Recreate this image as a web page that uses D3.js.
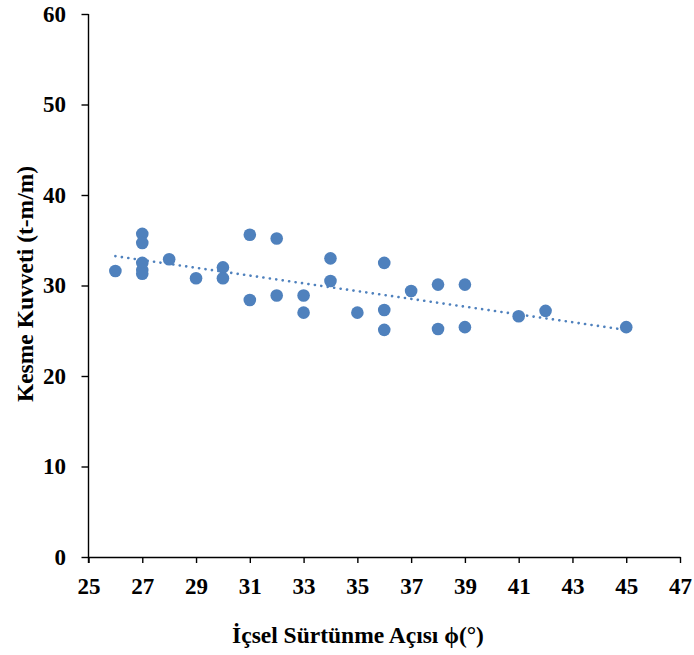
<!DOCTYPE html>
<html>
<head>
<meta charset="utf-8">
<script src="https://cdn.jsdelivr.net/npm/d3@7"></script>
<style>
  html, body { margin: 0; padding: 0; background: #fff; }
  svg { display: block; }
  text { font-family: "Liberation Serif", "Times New Roman", serif; font-weight: bold; fill: #000; }
</style>
</head>
<body>
<svg id="chart" width="694" height="655"></svg>
<script>
// Internal friction angle (degrees) vs. shear force (t-m/m)
const frictionAngle = [26, 27, 27, 27, 27, 27, 28, 29, 30, 30, 31, 31, 32, 32, 33, 33, 34, 34, 35, 36, 36, 36, 37, 38, 38, 39, 39, 41, 42, 45];
const shearForce    = [31.6, 35.7, 34.7, 32.5, 31.7, 31.3, 32.9, 30.8, 32.0, 30.8, 35.6, 28.4, 35.2, 28.9, 28.9, 27.0, 33.0, 30.5, 27.0, 32.5, 27.3, 25.1, 29.4, 30.1, 25.2, 30.1, 25.4, 26.6, 27.2, 25.4];
const xTicks = [25, 27, 29, 31, 33, 35, 37, 39, 41, 43, 45, 47];
const yTicks = [0, 10, 20, 30, 40, 50, 60];
const xTitle = "İçsel Sürtünme Açısı ϕ(°)";
const yTitle = "Kesme Kuvveti (t-m/m)";

const svg = d3.select("#chart");
const margin = { left: 88.5, right: 14, top: 14, bottom: 98 };
const W = 694, H = 655;

const x = d3.scaleLinear().domain([25, 47]).range([margin.left, W - margin.right]);
const y = d3.scaleLinear().domain([0, 60]).range([H - margin.bottom, margin.top]);

const color = "#4F81BD";

// Axes
const xAxis = svg.append("g")
  .attr("transform", `translate(0,${y(0)})`)
  .call(d3.axisBottom(x).tickValues(xTicks).tickSize(6).tickSizeOuter(0).tickPadding(15));
const yAxis = svg.append("g")
  .attr("transform", `translate(${x(25)},0)`)
  .call(d3.axisLeft(y).tickValues(yTicks).tickSize(7).tickSizeOuter(0).tickPadding(15.5));

[xAxis, yAxis].forEach(g => {
  g.select(".domain").attr("stroke", "#000").attr("stroke-width", 1.4);
  g.selectAll(".tick line").attr("stroke", "#000").attr("stroke-width", 1.4);
  g.selectAll(".tick text")
    .style("font-family", '"Liberation Serif", "Times New Roman", serif')
    .style("font-weight", "bold")
    .style("font-size", "23px")
    .attr("fill", "#000");
});
// extend y axis line down through the x tick zone
yAxis.select(".domain").attr("d", `M0,${y(60)}V${y(0) + 6}`);

// Linear least-squares trendline
const n = frictionAngle.length;
const mx = d3.mean(frictionAngle), my = d3.mean(shearForce);
let sxy = 0, sxx = 0;
for (let i = 0; i < n; i++) {
  sxy += (frictionAngle[i] - mx) * (shearForce[i] - my);
  sxx += (frictionAngle[i] - mx) ** 2;
}
const slope = sxy / sxx, intercept = my - slope * mx;
const xMin = d3.min(frictionAngle), xMax = d3.max(frictionAngle);
svg.append("line")
  .attr("x1", x(xMin)).attr("y1", y(intercept + slope * xMin))
  .attr("x2", x(xMax)).attr("y2", y(intercept + slope * xMax))
  .attr("stroke", color)
  .attr("stroke-width", 2.6)
  .attr("stroke-linecap", "round")
  .attr("stroke-dasharray", "0.1 6.4");

// Data points
svg.append("g").selectAll("circle")
  .data(d3.zip(frictionAngle, shearForce))
  .join("circle")
  .attr("cx", d => x(d[0]))
  .attr("cy", d => y(d[1]))
  .attr("r", 6.3)
  .attr("fill", color);

// Axis titles
svg.append("text")
  .attr("x", 358).attr("y", 643)
  .attr("text-anchor", "middle")
  .style("font-size", "23.5px")
  .text(xTitle);

svg.append("text")
  .attr("transform", `translate(33,284) rotate(-90)`)
  .attr("text-anchor", "middle")
  .style("font-size", "23.5px")
  .text(yTitle);
</script>
</body>
</html>
